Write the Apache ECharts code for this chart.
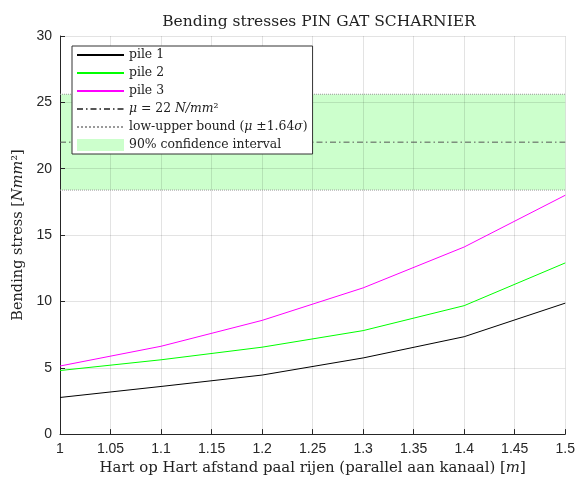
<!DOCTYPE html>
<html><head><meta charset="utf-8">
<script src="https://cdn.jsdelivr.net/npm/echarts@6/dist/echarts.min.js"></script>
<style>html,body{margin:0;padding:0;background:#fff}#c{width:578px;height:481px}</style>
</head><body><div id="c"></div>
<script>
const spacing = [1, 1.1, 1.2, 1.3, 1.4, 1.5];
const pile1 = [2.76, 3.59, 4.45, 5.74, 7.34, 9.87];
const pile2 = [4.79, 5.6, 6.55, 7.8, 9.68, 12.9];
const pile3 = [5.13, 6.62, 8.57, 11.02, 14.1, 18.0];
const mu = 22;
const lowBound = 18.39;
const highBound = 25.61;
const xRange = [1, 1.5];

const serif = '"DejaVu Serif", "Liberation Serif", serif';
const sans = '"Liberation Sans", Arial, sans-serif';
const pair = (xs, ys) => xs.map((x, i) => [x, ys[i]]);
const flat = v => xRange.map(x => [x, v]);

const chart = echarts.init(document.getElementById('c'));
chart.setOption({
  animation: false,
  backgroundColor: '#fff',
  title: {
    text: 'Bending stresses PIN GAT SCHARNIER',
    left: 314, top: 9, textAlign: 'center',
    textStyle: {fontFamily: serif, fontSize: 15.5, fontWeight: 'normal', color: '#222'}
  },
  grid: {left: 60, right: 10, top: 36, bottom: 45},
  legend: {
    orient: 'vertical', left: 72, top: 46, z: 10,
    backgroundColor: '#fff', borderColor: '#333', borderWidth: 1, borderRadius: 0,
    padding: [2, 5, 2, 4], itemGap: 4, itemWidth: 47, itemHeight: 12,
    itemStyle: {opacity: 0},
    textStyle: {fontFamily: serif, fontSize: 12.4, color: '#222', lineHeight: 14,
      rich: {i: {fontFamily: serif, fontSize: 12.4, fontStyle: 'italic', color: '#222'}}},
    formatter: function (n) {
      if (n === 'mu') return '{i|μ} = 22 {i|N/mm}²';
      if (n === 'bound') return 'low-upper bound ({i|μ} ±1.64{i|σ})';
      return n;
    },
    data: [
      {name: 'pile 1'}, {name: 'pile 2'}, {name: 'pile 3'},
      {name: 'mu'}, {name: 'bound'},
      {name: '90% confidence interval', icon: 'rect', itemStyle: {opacity: 1, color: '#ccffcc'}}
    ]
  },
  xAxis: {
    type: 'value', min: 1, max: 1.5, interval: 0.05, z: 3,
    name: 'Hart op Hart afstand paal rijen (parallel aan kanaal) [{i|m}]',
    nameLocation: 'middle', nameGap: 25,
    nameTextStyle: {fontFamily: serif, fontSize: 14.9, color: '#222',
      rich: {i: {fontFamily: serif, fontSize: 14.9, fontStyle: 'italic', color: '#222'}}},
    axisLine: {lineStyle: {color: '#262626', width: 1}},
    axisTick: {inside: true, length: 5, lineStyle: {color: '#262626'}},
    axisLabel: {fontFamily: sans, fontSize: 14, color: '#262626', margin: 8,
      formatter: v => String(Math.round(v * 100) / 100)},
    splitLine: {show: true, lineStyle: {color: 'rgba(0,0,0,0.11)', width: 1}}
  },
  yAxis: {
    type: 'value', min: 0, max: 30, interval: 5, z: 3,
    name: 'Bending stress [{i|Nmm}²]',
    nameLocation: 'middle', nameGap: 33,
    nameTextStyle: {fontFamily: serif, fontSize: 14.5, color: '#222',
      rich: {i: {fontFamily: serif, fontSize: 14.5, fontStyle: 'italic', color: '#222'}}},
    axisLine: {show: true, lineStyle: {color: '#262626', width: 1}},
    axisTick: {show: true, inside: true, length: 5, lineStyle: {color: '#262626'}},
    axisLabel: {fontFamily: sans, fontSize: 14, color: '#262626', margin: 8},
    splitLine: {show: true, lineStyle: {color: 'rgba(0,0,0,0.11)', width: 1}}
  },
  series: [
    {
      name: '90% confidence interval', type: 'line', data: [], z: 1,
      itemStyle: {color: '#ccffcc'}, lineStyle: {color: '#ccffcc'},
      symbol: 'none', silent: true,
      markArea: {silent: true, itemStyle: {color: '#ccffcc', opacity: 1},
        data: [[{yAxis: lowBound}, {yAxis: highBound}]]}
    },
    {name: 'bound', type: 'line', data: flat(lowBound), symbol: 'none', z: 4,
      lineStyle: {color: '#9a9a9a', width: 1, type: 'dotted'}, itemStyle: {color: '#9a9a9a'}},
    {name: 'bound', type: 'line', data: flat(highBound), symbol: 'none', z: 4,
      lineStyle: {color: '#9a9a9a', width: 1, type: 'dotted'}, itemStyle: {color: '#9a9a9a'}},
    {name: 'mu', type: 'line', data: flat(mu), symbol: 'none', z: 4,
      lineStyle: {color: '#555555', width: 1, type: [6, 3, 1.5, 3]}, itemStyle: {color: '#555555'}},
    {name: 'pile 1', type: 'line', data: pair(spacing, pile1), symbol: 'none', z: 4,
      lineStyle: {color: '#000000', width: 1}, itemStyle: {color: '#000000'}},
    {name: 'pile 2', type: 'line', data: pair(spacing, pile2), symbol: 'none', z: 4,
      lineStyle: {color: '#00ff00', width: 1}, itemStyle: {color: '#00ff00'}},
    {name: 'pile 3', type: 'line', data: pair(spacing, pile3), symbol: 'none', z: 4,
      lineStyle: {color: '#ff00ff', width: 1}, itemStyle: {color: '#ff00ff'}}
  ]
});
</script>
</body></html>
